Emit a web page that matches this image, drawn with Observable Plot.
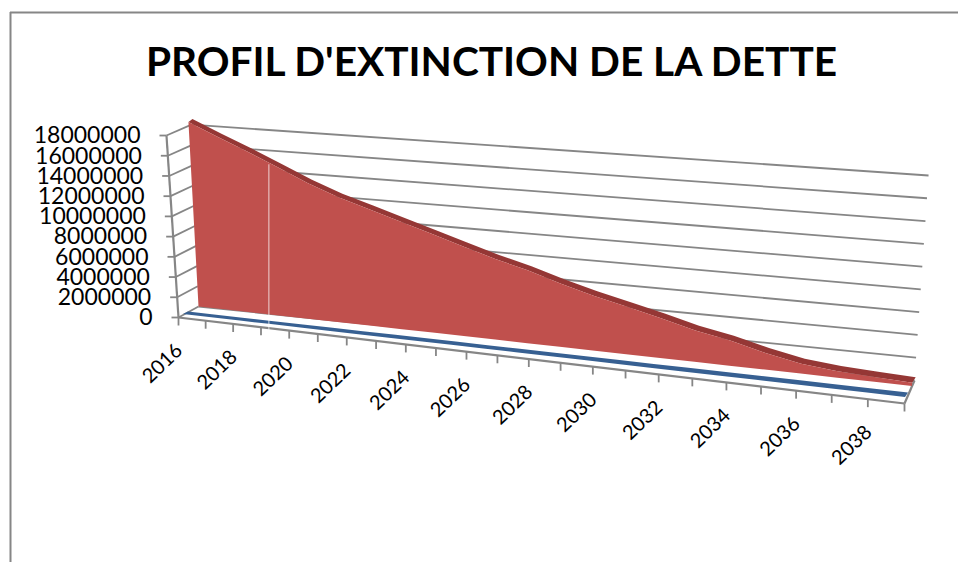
<!DOCTYPE html>
<html>
<head>
<meta charset="utf-8">
<script src="https://cdn.jsdelivr.net/npm/d3@7"></script>
<script src="https://cdn.jsdelivr.net/npm/@observablehq/plot@0.6"></script>
<style>
html,body{margin:0;padding:0;background:#fff;overflow:hidden}
svg{display:block}
</style>
</head>
<body>
<div id="chart"></div>
<script>
const chartTitle = "PROFIL D'EXTINCTION DE LA DETTE";
const years = [2016,2017,2018,2019,2020,2021,2022,2023,2024,2025,2026,2027,2028,2029,2030,2031,2032,2033,2034,2035,2036,2037,2038];
const debt = [18270000,16920000,15640000,14300000,12950000,11820000,10890000,9950000,9050000,8120000,7240000,6470000,5560000,4770000,4090000,3390000,2640000,2100000,1370000,800000,520000,380000,250000];
const secondSeries = [0,0,0,0,0,0,0,0,0,0,0,0,0,0,0,0,0,0,0,0,0,0,0];
const yTicks = [0,2000000,4000000,6000000,8000000,10000000,12000000,14000000,16000000,18000000];
const xTickYears = [2016,2017,2018,2019,2020,2021,2022,2023,2024,2025,2026,2027,2028,2029,2030,2031,2032,2033,2034,2035,2036,2037,2038,2039];
const xLabelYears = [2016,2018,2020,2022,2024,2026,2028,2030,2032,2034,2036,2038];
const seamYear = 2018.48;

// Camera of the 3D chart: each plane is a base line plus the lean and rise of one unit of value (million).
const planes = {
  wall:      {a:[198,306],     b:[914,380],   lean:[-.39,.78], rise:[10.1,11.39]},
  front:     {a:[178,317],     b:[904,403],   lean:[-.667,.78], rise:[10.11,11.39]},
  redFront:  {a:[198.5,306.5], b:[912,386],   lean:[-.55,.78], rise:[10.1,12.6]},
  redBack:   {a:[202.5,303.5], b:[915.5,380.5], lean:[-.55,.78], rise:[10.1,12.6]},
  blueFront: {a:[183,314],     b:[905,397],   lean:[0,0],      rise:[10,12]},
  blueBack:  {a:[188,311.5],   b:[908,392.5], lean:[0,0],      rise:[10,12]}
};
const foreshorten = u => u / (1 + 0.17 * (1 - u));
const mix = (p, q, s) => p + (q - p) * s;
function place(planeName, u, value) {
  const P = planes[planeName], s = foreshorten(u), m = value / 1e6;
  return [mix(P.a[0], P.b[0], s) + mix(P.lean[0], P.lean[1], s) * m,
          mix(P.a[1], P.b[1], s) - mix(P.rise[0], P.rise[1], s) * m];
}
const catU = y => (y - 2016) / 22;   // series run wall to wall
const tickU = y => (y - 2016) / 23;  // axis ticks bound the categories

const grey = "#868686";
const font = "Lato, Carlito, sans-serif";
const red = years.map((y, i) => {
  const f0 = place("redFront", catU(y), 0), f1 = place("redFront", catU(y), debt[i]), b1 = place("redBack", catU(y), debt[i]);
  return {x1:f0[0], y1:f0[1], x2:f1[0], y2:f1[1], bx:b1[0], by:b1[1]};
});
const blue = years.map((y, i) => {
  const f = place("blueFront", catU(y), secondSeries[i]), b = place("blueBack", catU(y), secondSeries[i]);
  return {x1:f[0], y1:f[1], x2:b[0], y2:b[1]};
});
const link = (from, to) => ({x1:from[0], y1:from[1], x2:to[0], y2:to[1]});
const gridBack = yTicks.map(v => link(place("wall", 0, v), place("wall", 1, v)));
const gridSide = yTicks.map(v => link(place("front", 0, v), place("wall", 0, v)));
const yAxisTicks = yTicks.map(v => { const p = place("front", 0, v); return {x1:p[0] - 7, y1:p[1], x2:p[0], y2:p[1], label:String(v), x:p[0], y:p[1]}; });
const xAxisTicks = xTickYears.map(y => { const p = place("front", tickU(y), 0); return {x1:p[0], y1:p[1], x2:p[0], y2:p[1] + 8}; });
const xLabels = xLabelYears.map(y => { const p = place("front", tickU(y), 0); return {x:p[0], y:p[1], label:String(y)}; });
const skeleton = [
  link(place("front", 0, 0), place("front", 1, 0)),
  link(place("front", 1, 0), place("wall", 1, 0)),
  link(place("front", 0, 0), place("front", 0, 18000000))
];
const seamBase = place("redFront", catU(seamYear), 0);
const seamTop = place("redFront", catU(seamYear), 14550000);
const seam = [{x1:seamBase[0], y1:seamBase[1] + 17, x2:seamBase[0], y2:seamTop[1]}];
const linkOpts = (extra) => ({x1:"x1", y1:"y1", x2:"x2", y2:"y2", ...extra});

const chart = Plot.plot({
  width: 958, height: 562, margin: 0,
  x: {domain:[0,958], range:[0,958], axis:null},
  y: {domain:[0,562], range:[0,562], axis:null},
  style: {background:"#fff"},
  marks: [
    Plot.ruleX([10], {y1:12, y2:562, stroke:grey, strokeWidth:2}),
    Plot.ruleY([12], {x1:10, x2:958, stroke:grey, strokeWidth:2}),
    Plot.text([chartTitle], {x:491, y:62.5, text:d=>d, fontSize:40.6, fontWeight:700, fontFamily:font, fill:"#000", textAnchor:"middle"}),
    Plot.link(gridBack, linkOpts({stroke:grey, strokeWidth:1.8})),
    Plot.link(gridSide, linkOpts({stroke:grey, strokeWidth:1.8})),
    Plot.link(yAxisTicks, linkOpts({stroke:grey, strokeWidth:1.8})),
    Plot.link(skeleton, linkOpts({stroke:grey, strokeWidth:2.2})),
    Plot.link(xAxisTicks, linkOpts({stroke:grey, strokeWidth:1.8})),
    Plot.area(blue, {x1:"x1", y1:"y1", x2:"x2", y2:"y2", fill:"#376092"}),
    Plot.area(red, {x1:"x2", y1:"y2", x2:"bx", y2:"by", fill:"#953735"}),
    Plot.area(red, {x1:"x1", y1:"y1", x2:"x2", y2:"y2", fill:"#C0504D"}),
    Plot.link(seam, linkOpts({stroke:"#fff", strokeWidth:1, strokeOpacity:.75})),
    Plot.text(yAxisTicks, {x:"x", y:"y", text:"label", dx:-26, dy:0.5, textAnchor:"end", fontSize:23, fontFamily:font, fill:"#000"}),
    Plot.text(xLabels, {x:"x", y:"y", text:"label", dx:-16, dy:46, rotate:-44, fontSize:20, fontFamily:font, fill:"#000"})
  ]
});
document.getElementById("chart").append(chart);
</script>
</body>
</html>
